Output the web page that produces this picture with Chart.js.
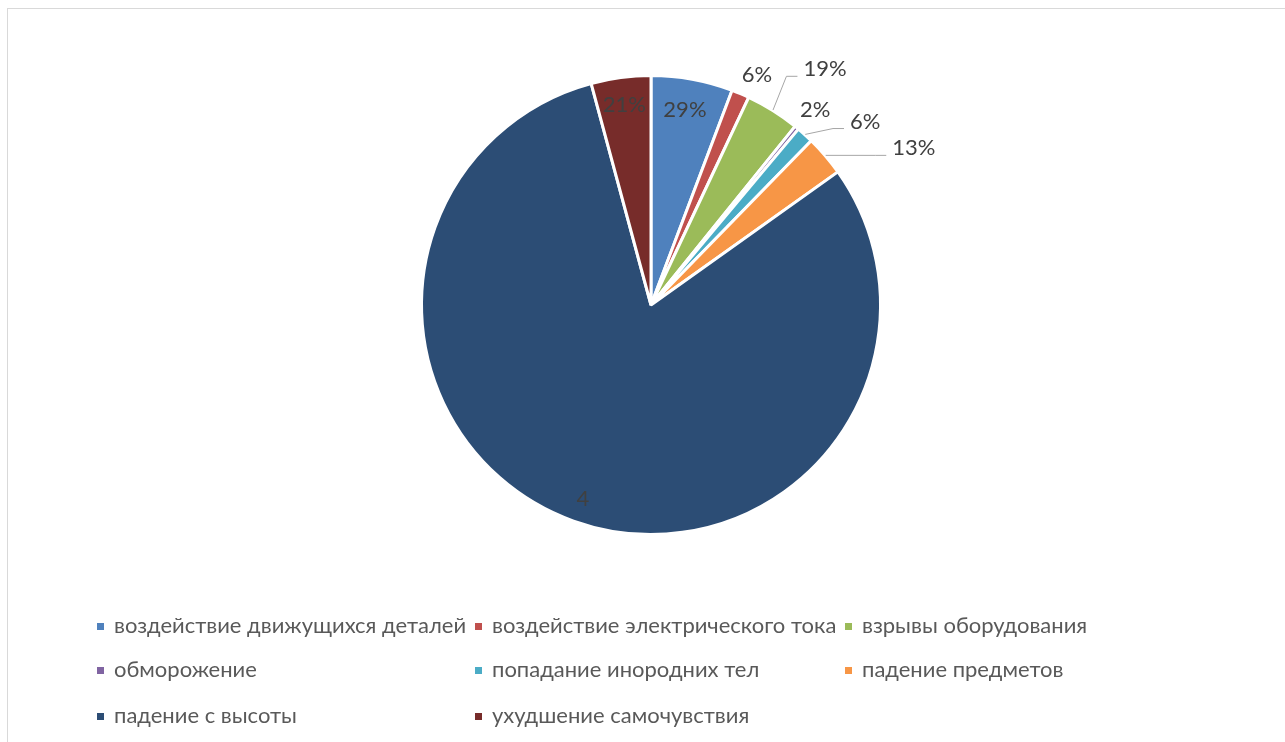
<!DOCTYPE html>
<html>
<head>
<meta charset="utf-8">
<script src="https://cdn.jsdelivr.net/npm/chart.js@4"></script>
<style>
  html, body { margin: 0; padding: 0; background: #fff; }
  #wrap { position: relative; width: 1285px; height: 742px; overflow: hidden; }
  #frame { position: absolute; left: 7px; top: 8px; right: 0; bottom: -2px; border-left: 1px solid #d9d9d9; border-top: 1px solid #d9d9d9; }
  canvas { position: absolute; left: 0; top: 0; }
  .lg { position: absolute; font-family: Lato, "Open Sans", sans-serif; font-size: 22px; color: #595959; white-space: nowrap; line-height: 24px; }
  .lg i { display: inline-block; width: 7px; height: 7px; margin-right: 10px; vertical-align: middle; position: relative; top: -1px; }
</style>
</head>
<body>
<div id="wrap">
  <div id="frame"></div>
  <canvas id="c" width="1285" height="742"></canvas>
  <div id="legend"></div>
</div>
<script>
const categories = [
  'воздействие движущихся деталей',
  'воздействие электрического тока',
  'взрывы оборудования',
  'обморожение',
  'попадание инородних тел',
  'падение предметов',
  'падение с высоты',
  'ухудшение самочувствия'
];
const values = [5.75, 1.25, 3.8, 0.3, 1.2, 2.85, 80.65, 4.2];
const pointLabels = ['29%', '6%', '19%', '2%', '6%', '13%', '4', '21%'];
const colors = ['#4F81BD', '#C0504D', '#9BBB59', '#8064A2', '#4BACC6', '#F79646', '#2C4D75', '#772C2A'];

// label placement: distance as fraction of radius, angular shift (deg), leader line
const labelPlacement = [
  { f: 0.87, s: -0.5, leader: false },
  { f: 1.11, s: 1.8, leader: false },
  { f: 1.285, s: 4.4, leader: true },
  { f: 1.12, s: 0.6, leader: false },
  { f: 1.237, s: 7.3, leader: true },
  { f: 1.342, s: 9.8, leader: true },
  { f: 0.90, s: -0.3, leader: false },
  { f: 0.886, s: 0, leader: false }
];

const labelPlugin = {
  id: 'sliceLabels',
  afterDatasetsDraw(chart) {
    const ctx = chart.ctx;
    const meta = chart.getDatasetMeta(0);
    ctx.save();
    ctx.font = '22px Lato, "Open Sans", sans-serif';
    ctx.textAlign = 'center';
    ctx.textBaseline = 'middle';
    meta.data.forEach((arc, i) => {
      const p = arc.getProps(['x', 'y', 'startAngle', 'endAngle', 'outerRadius'], true);
      const R = p.outerRadius - 1.5;
      const mid = (p.startAngle + p.endAngle) / 2;
      const pl = labelPlacement[i];
      const a = mid + pl.s * Math.PI / 180;
      const tx = p.x + Math.cos(a) * R * pl.f;
      const ty = p.y + Math.sin(a) * R * pl.f;
      const txt = pointLabels[i];
      if (pl.leader) {
        const w = ctx.measureText(txt).width;
        const left = tx - w / 2;
        const sx = p.x + Math.cos(mid) * (R + 2);
        const sy = p.y + Math.sin(mid) * (R + 2);
        const ly = ty + 7;
        ctx.strokeStyle = '#A6A6A6';
        ctx.lineWidth = 1;
        ctx.beginPath();
        ctx.moveTo(sx, sy);
        ctx.lineTo(left - 17, ly);
        ctx.lineTo(left - 6, ly);
        ctx.stroke();
      }
      ctx.fillStyle = '#404040';
      ctx.fillText(txt, tx, ty);
    });
    ctx.restore();
  }
};

const chart = new Chart(document.getElementById('c'), {
  type: 'pie',
  data: {
    labels: categories,
    datasets: [{
      data: values,
      backgroundColor: colors,
      borderColor: '#ffffff',
      borderWidth: 3
    }]
  },
  options: {
    responsive: false,
    animation: false,
    layout: { padding: { left: 420, right: 403, top: 74, bottom: 206 } },
    plugins: {
      legend: { display: false },
      tooltip: { enabled: false }
    }
  },
  plugins: [labelPlugin]
});

// HTML legend built from the chart's legend items
const legendPos = [
  [97, 613], [475, 613], [845, 613],
  [97, 657], [475, 657], [845, 657],
  [97, 703], [475, 703]
];
const items = chart.options.plugins.legend.labels.generateLabels(chart);
const lg = document.getElementById('legend');
items.forEach((it, i) => {
  const d = document.createElement('div');
  d.className = 'lg';
  d.style.left = legendPos[i][0] + 'px';
  d.style.top = legendPos[i][1] + 'px';
  const m = document.createElement('i');
  m.style.background = it.fillStyle;
  d.appendChild(m);
  d.appendChild(document.createTextNode(it.text));
  lg.appendChild(d);
});
</script>
</body>
</html>
